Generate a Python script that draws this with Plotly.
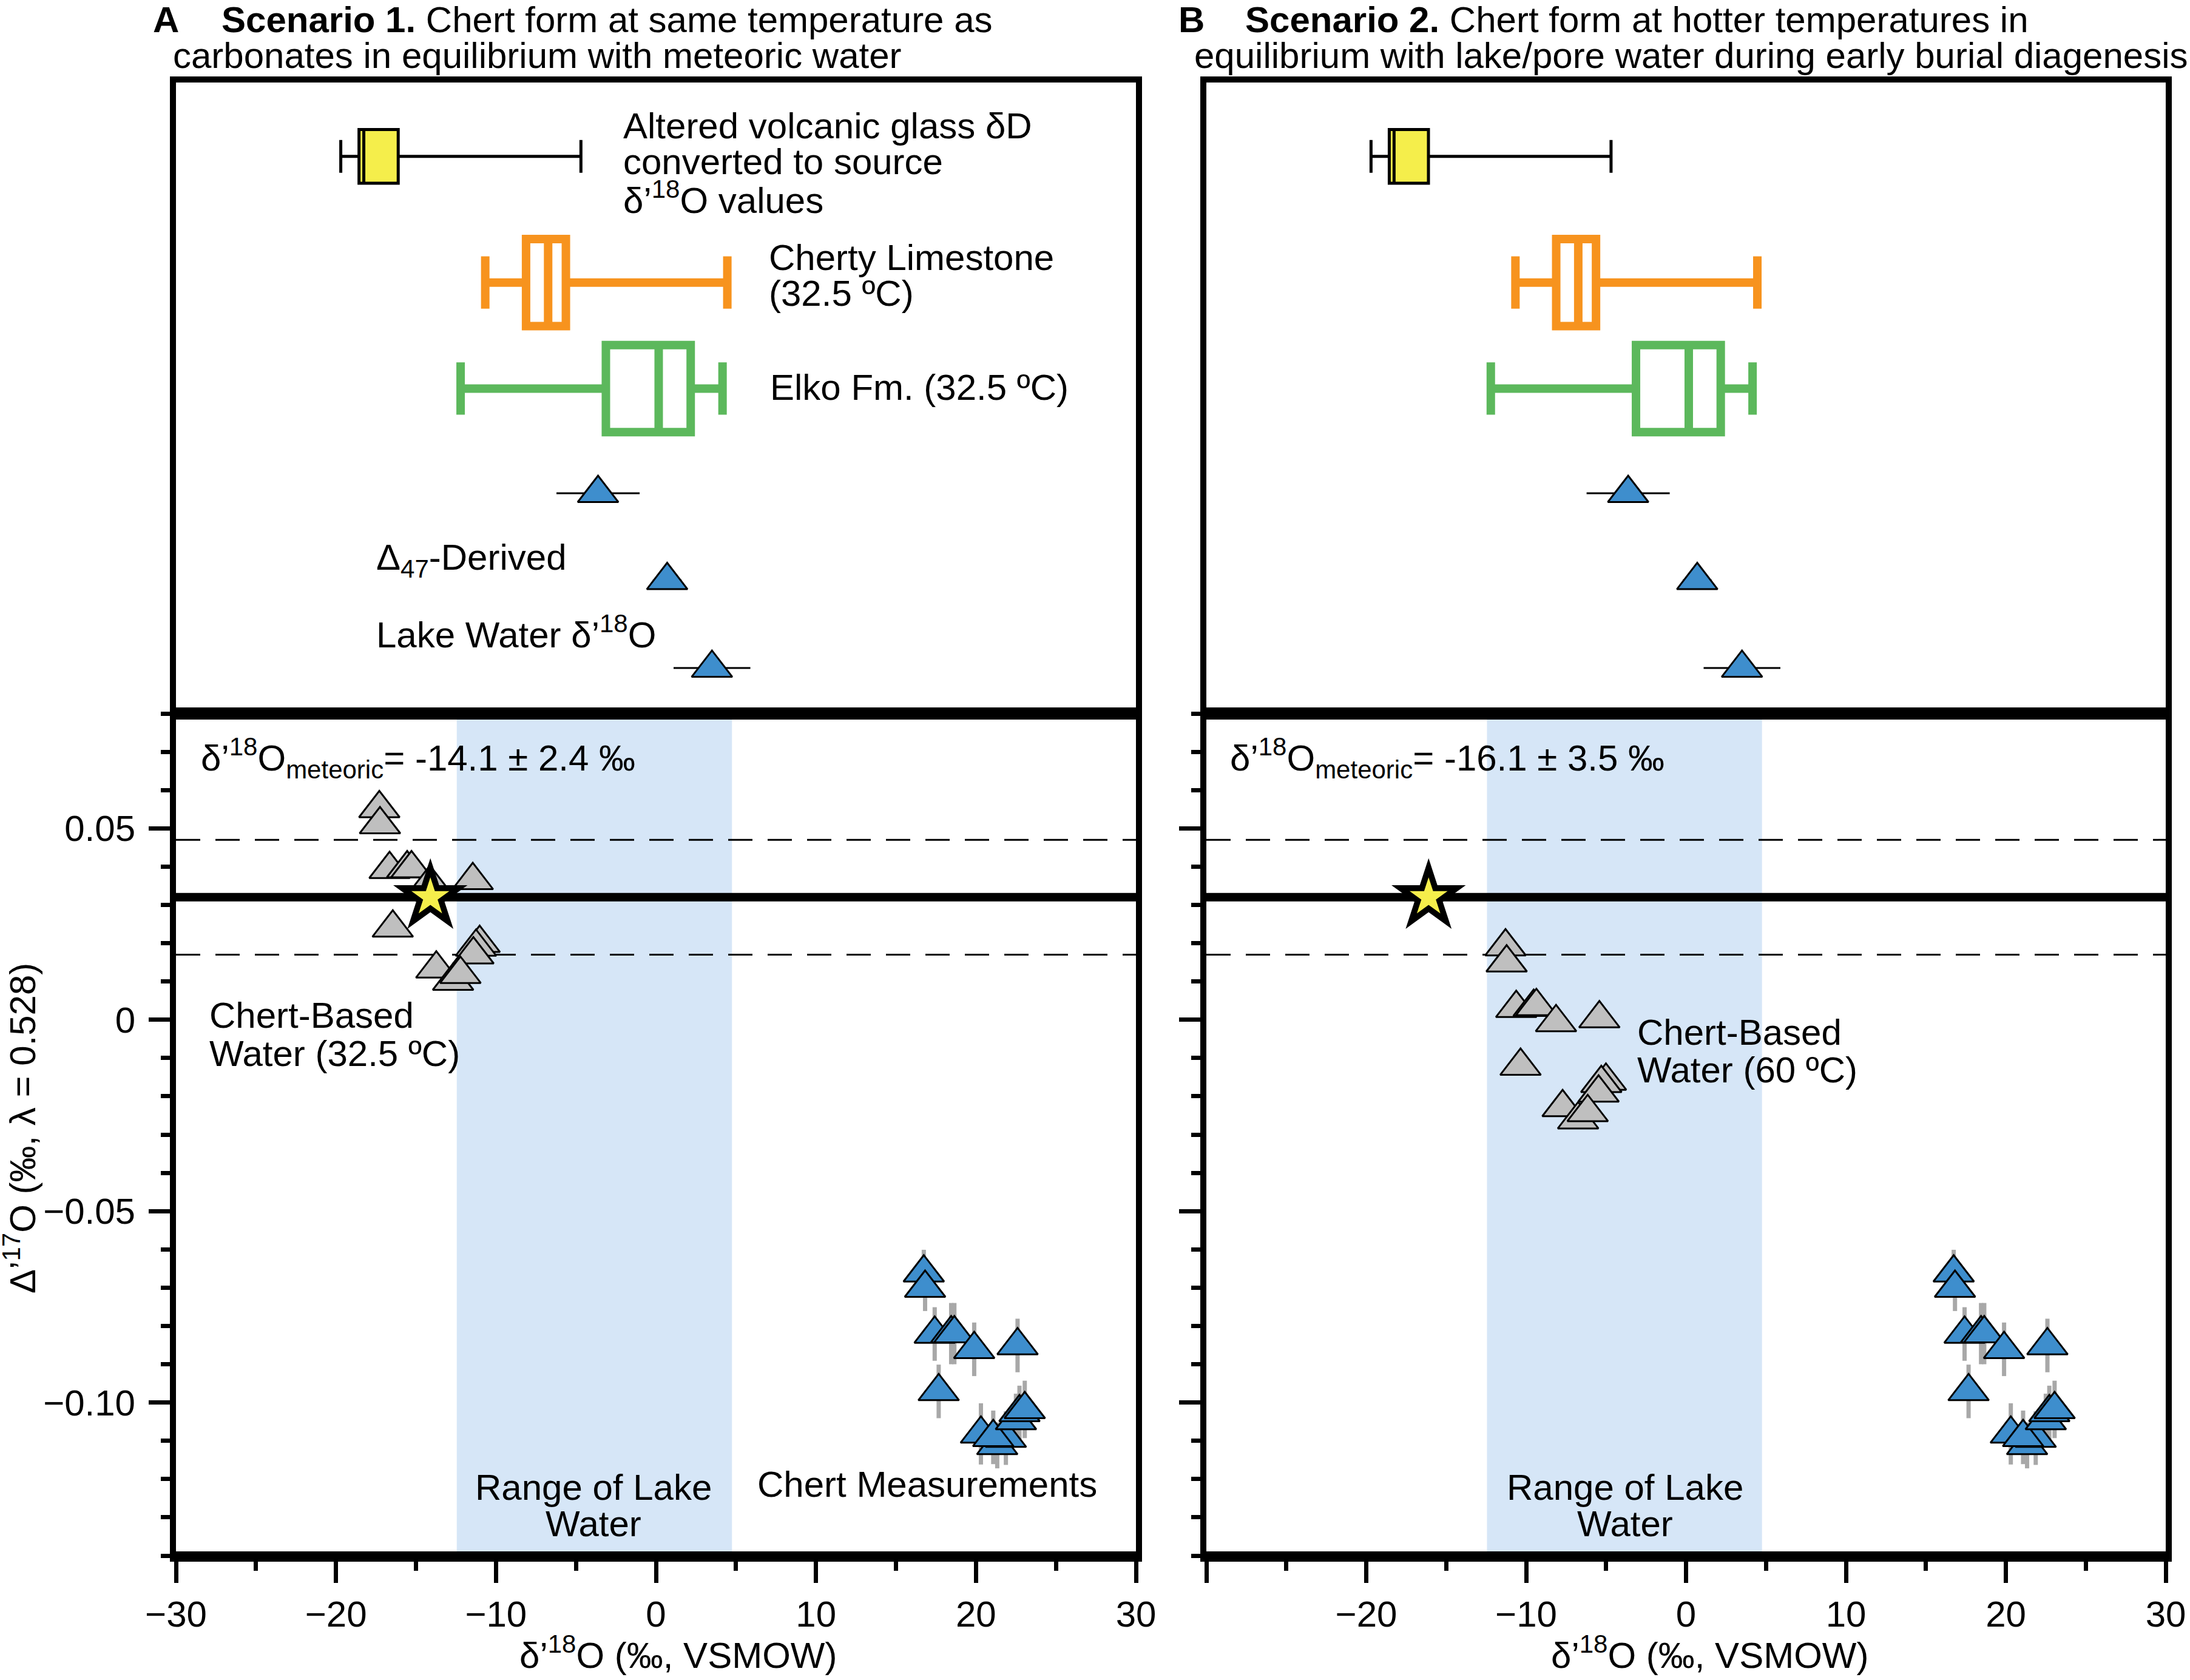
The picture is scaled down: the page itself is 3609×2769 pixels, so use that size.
import plotly.graph_objects as go

W, H = 3609, 2769
FONT = "Liberation Sans, Arial, Helvetica, sans-serif"

# ---------------- data ----------------
# top panel: source-water box summaries (δ'18O, ‰ VSMOW)
box_lower = [-19.70, -10.67, -12.21]
box_q1 = [-18.56, -8.12, -3.13]
box_median = [-18.26, -6.74, 0.17]
box_q3 = [-16.11, -5.63, 2.17]
box_upper = [-4.69, 4.46, 4.16]
box_rows = [0.883, 0.683, 0.515]

# Δ47-derived lake water δ'18O
d47_x = [-3.62, 0.70, 3.50]
d47_err = [2.6, 0.9, 2.4]
d47_rows = [0.349, 0.211, 0.072]

# chert measurements (δ'18O, Δ'17O)
chert_x = [16.74, 16.82, 17.42, 18.45, 18.65, 19.89, 22.60, 17.67,
           20.31, 21.33, 21.87, 21.08, 22.50, 22.72, 23.05]
chert_y = [-0.0661, -0.0701, -0.0821, -0.0820, -0.0820, -0.0861, -0.0851, -0.0971,
           -0.1082, -0.1112, -0.1093, -0.1091, -0.1047, -0.1026, -0.1018]
chert_err = [0.006, 0.006, 0.007, 0.008, 0.008, 0.007, 0.007, 0.007,
             0.008, 0.006, 0.007, 0.007, 0.007, 0.007, 0.0075]

# chert-based water at 32.5 ºC
w32_x = [-17.29, -17.25, -16.65, -15.55, -15.28, -14.13, -11.45, -16.45,
         -11.02, -11.25, -11.41, -13.73, -12.68, -12.22]
w32_y = [0.0552, 0.0510, 0.0393, 0.0395, 0.0395, 0.0357, 0.0364, 0.0240,
         0.0200, 0.0190, 0.0170, 0.0133, 0.0101, 0.0119]

# chert-based water at 60 ºC
w60_x = [-11.29, -11.22, -10.62, -9.53, -9.36, -8.13, -5.42, -10.35,
         -5.01, -5.30, -5.47, -7.72, -6.75, -6.15]
w60_y = [0.0191, 0.0149, 0.0030, 0.0033, 0.0035, -0.0007, 0.0003, -0.0121,
         -0.0160, -0.0166, -0.0191, -0.0229, -0.0261, -0.0242]

meteoric_x = [-14.1, -16.1]
meteoric_d17 = 0.032
meteoric_band = 0.015
lake_range = [-12.45, 4.75]

x_ticks = [-30, -20, -10, 0, 10, 20, 30]
y_ticks = [0.05, 0, -0.05, -0.10]
y_tick_text = ["0.05", "0", "\u22120.05", "\u22120.10"]

# ---------------- style ----------------
YELLOW = "#F5EE4B"
ORANGE = "#F7931E"
GREEN = "#5CB85C"
BLUE = "#3E8ECD"
GRAY = "#BFBFBF"
ERRGRAY = "#A8A8A8"
SHADE = "#D6E6F7"

box_fill = [YELLOW, "white", "white"]
box_line = ["black", ORANGE, GREEN]
box_lw = [5, 14, 14]
box_w = [0.085, 0.138, 0.138]
box_ww = [0.61, 0.6, 0.6]

xA = [290 / W, 1872 / W]
xB = [1988 / W, 3569 / W]
y_bot = [1 - 2564 / H, 1 - 1176 / H]
y_top = [1 - 1176 / H, 1 - 136 / H]

fig = go.Figure()

panels = [
    dict(xb="x", yb="y", xt="x2", yt="y2", w_x=w32_x, w_y=w32_y, met=meteoric_x[0]),
    dict(xb="x3", yb="y3", xt="x4", yt="y4", w_x=w60_x, w_y=w60_y, met=meteoric_x[1]),
]

shapes = []
for p in panels:
    # boxes
    for i in range(3):
        fig.add_trace(go.Box(
            orientation="h", y=[box_rows[i]],
            lowerfence=[box_lower[i]], q1=[box_q1[i]], median=[box_median[i]],
            q3=[box_q3[i]], upperfence=[box_upper[i]],
            width=box_w[i], whiskerwidth=box_ww[i],
            fillcolor=box_fill[i], line=dict(color=box_line[i], width=box_lw[i]),
            boxpoints=False, xaxis=p["xt"], yaxis=p["yt"], showlegend=False,
            hoverinfo="skip"))
    # Δ47-derived lake water
    fig.add_trace(go.Scatter(
        x=d47_x, y=d47_rows, mode="markers",
        error_x=dict(type="data", array=d47_err, color="black", thickness=3, width=0),
        marker=dict(symbol="triangle-up", size=58, color=BLUE, line=dict(color="black", width=3)),
        xaxis=p["xt"], yaxis=p["yt"], showlegend=False, hoverinfo="skip"))
    # chert measurements
    fig.add_trace(go.Scatter(
        x=chert_x, y=chert_y, mode="markers",
        error_y=dict(type="data", array=chert_err, color=ERRGRAY, thickness=7, width=0),
        marker=dict(symbol="triangle-up", size=58, color=BLUE, line=dict(color="black", width=3)),
        xaxis=p["xb"], yaxis=p["yb"], showlegend=False, hoverinfo="skip"))
    # chert-based water
    fig.add_trace(go.Scatter(
        x=p["w_x"], y=p["w_y"], mode="markers",
        marker=dict(symbol="triangle-up", size=58, color=GRAY, line=dict(color="black", width=3)),
        xaxis=p["xb"], yaxis=p["yb"], showlegend=False, hoverinfo="skip"))
    # meteoric star (black outline + yellow fill)
    fig.add_trace(go.Scatter(
        x=[p["met"]], y=[meteoric_d17], mode="markers",
        marker=dict(symbol="star", size=92, color="black", line=dict(width=0)),
        xaxis=p["xb"], yaxis=p["yb"], showlegend=False, hoverinfo="skip"))
    fig.add_trace(go.Scatter(
        x=[p["met"]], y=[meteoric_d17], mode="markers",
        marker=dict(symbol="star", size=47, color=YELLOW, line=dict(width=0)),
        xaxis=p["xb"], yaxis=p["yb"], showlegend=False, hoverinfo="skip"))

    ydom = p["yb"] + " domain"
    xdom = p["xb"] + " domain"
    shapes.append(dict(type="rect", xref=p["xb"], yref=ydom, x0=lake_range[0], x1=lake_range[1],
                       y0=0, y1=1, fillcolor=SHADE, line=dict(width=0), layer="below"))
    for yy in (meteoric_d17 + meteoric_band, meteoric_d17 - meteoric_band):
        shapes.append(dict(type="line", xref=xdom, yref=p["yb"], x0=0, x1=1, y0=yy, y1=yy,
                           line=dict(color="black", width=3, dash="40px,25px"), layer="below"))
    shapes.append(dict(type="line", xref=xdom, yref=p["yb"], x0=0, x1=1,
                       y0=meteoric_d17, y1=meteoric_d17,
                       line=dict(color="black", width=14), layer="below"))
    # heavier bottom axis line
    shapes.append(dict(type="line", xref=xdom, yref=ydom, x0=0, x1=1, y0=0, y1=0,
                       line=dict(color="black", width=14), layer="above"))

tickfont = dict(family=FONT, size=60, color="black")


def xbottom(domain, anchor, text):
    return dict(domain=domain, anchor=anchor, range=[-30, 30], showgrid=False, zeroline=False,
                automargin=False,
                showline=True, mirror=True, linecolor="black", linewidth=10,
                ticks="outside", ticklen=35, tickwidth=7, tickcolor="black",
                tickvals=x_ticks, ticktext=text, tickfont=tickfont,
                minor=dict(ticks="outside", ticklen=15, tickwidth=7, tickcolor="black",
                           tickvals=[-25, -15, -5, 5, 15, 25], showgrid=False))


def yleft(domain, anchor, labels):
    return dict(domain=domain, anchor=anchor, range=[-0.14, 0.08], showgrid=False, zeroline=False,
                automargin=False,
                showline=True, mirror=True, linecolor="black", linewidth=10,
                ticks="outside", ticklen=35, tickwidth=7, tickcolor="black",
                tickvals=y_ticks, ticktext=y_tick_text, tickfont=tickfont,
                showticklabels=labels, ticklabelstandoff=10,
                minor=dict(ticks="outside", ticklen=15, tickwidth=7, tickcolor="black",
                           dtick=0.01, tick0=0, showgrid=False))


def topax(domain, anchor, rng):
    return dict(domain=domain, anchor=anchor, range=rng, showgrid=False, zeroline=False,
                automargin=False,
                showline=True, mirror=True, linecolor="black", linewidth=10,
                ticks="", showticklabels=False, type="linear")


xt_A = ["\u221230", "\u221220", "\u221210", "0", "10", "20", "30"]
xt_B = [" ", "\u221220", "\u221210", "0", "10", "20", "30"]

fig.update_layout(
    width=W, height=H, autosize=False,
    margin=dict(l=0, r=0, t=0, b=0, pad=0),
    paper_bgcolor="white", plot_bgcolor="white",
    boxmode="overlay", showlegend=False,
    font=dict(family=FONT, size=60, color="black"),
    xaxis=xbottom(xA, "y", xt_A),
    yaxis=yleft(y_bot, "x", True),
    xaxis2=topax(xA, "y2", [-30, 30]),
    yaxis2=topax(y_top, "x2", [0, 1]),
    xaxis3=xbottom(xB, "y3", xt_B),
    yaxis3=yleft(y_bot, "x3", False),
    xaxis4=topax(xB, "y4", [-30, 30]),
    yaxis4=topax(y_top, "x4", [0, 1]),
    shapes=shapes,
)

annots = []


def txt(x, y, s, anchor="left", angle=0):
    annots.append(dict(x=x / W, y=1 - y / H, xref="paper", yref="paper", text=s,
                       showarrow=False, xanchor=anchor, yanchor="middle", textangle=angle,
                       font=dict(family=FONT, size=60, color="black")))


# titles
txt(250, 33, "<b>A</b>")
txt(363, 33, "<b>Scenario 1.</b> Chert form at same temperature as")
txt(283, 91, "carbonates in equilibrium with meteoric water")
txt(1940, 33, "<b>B</b>")
txt(2050, 33, "<b>Scenario 2.</b> Chert form at hotter temperatures in")
txt(1966, 91, "equilibrium with lake/pore water during early burial diagenesis")

# panel A top
txt(1025, 207, "Altered volcanic glass δD")
txt(1025, 267, "converted to source")
txt(1025, 326, "δ’<sup>18</sup>O values")
txt(1265, 424, "Cherty Limestone")
txt(1265, 484, "(32.5 ºC)")
txt(1267, 638, "Elko Fm. (32.5 ºC)")
txt(618, 923, "Δ<sub>47</sub>-Derived")
txt(618, 1042, "Lake Water δ’<sup>18</sup>O")

# panel A bottom
txt(329, 1250, "δ’<sup>18</sup>O<sub>meteoric</sub>= -14.1 ± 2.4 ‰")
txt(343, 1673, "Chert-Based")
txt(343, 1736, "Water (32.5 ºC)")
txt(978, 2451, "Range of Lake", "center")
txt(978, 2511, "Water", "center")
txt(1528, 2446, "Chert Measurements", "center")

# panel B bottom
txt(2025, 1250, "δ’<sup>18</sup>O<sub>meteoric</sub>= -16.1 ± 3.5 ‰")
txt(2696, 1701, "Chert-Based")
txt(2696, 1764, "Water (60 ºC)")
txt(2678, 2451, "Range of Lake", "center")
txt(2678, 2511, "Water", "center")

# axis titles
txt(1117, 2724, "δ’<sup>18</sup>O (‰, VSMOW)", "center")
txt(2817, 2724, "δ’<sup>18</sup>O (‰, VSMOW)", "center")
txt(33, 1860, "Δ’<sup>17</sup>O (‰, λ = 0.528)", "center", -90)

fig.update_layout(annotations=annots)

fig.write_html("out.html", config={"displayModeBar": False},
               post_script="document.body.style.margin='0px';")
